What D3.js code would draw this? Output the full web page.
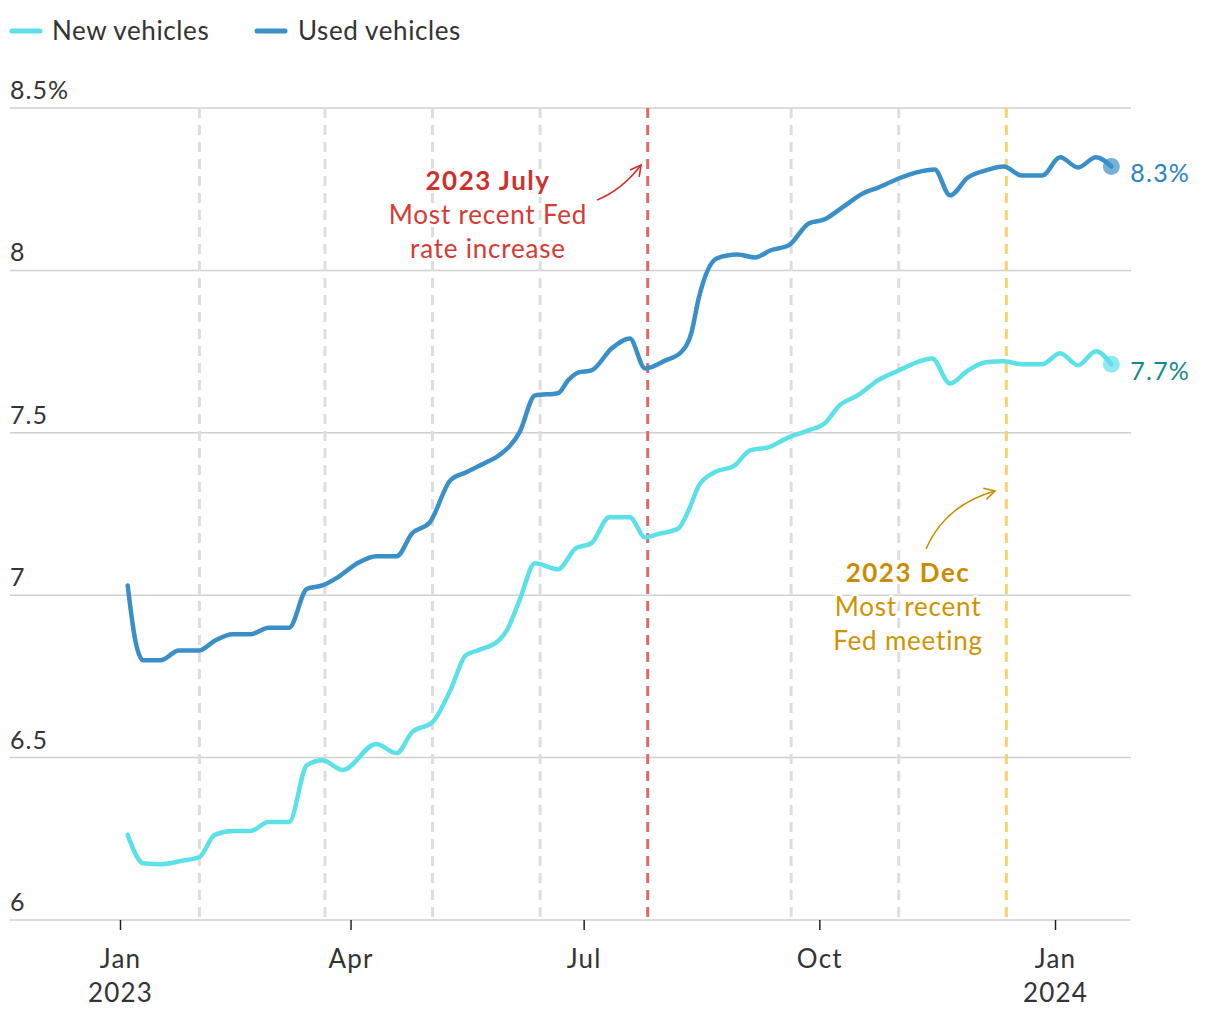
<!DOCTYPE html>
<html><head><meta charset="utf-8">
<script src="https://cdn.jsdelivr.net/npm/d3@7"></script>
<style>
body{margin:0;background:#fff;}
svg{display:block;font-family:Lato,"Noto Sans",sans-serif;}
</style></head>
<body><svg id="c" width="1220" height="1020"></svg>
<script>
const seriesNames = ["New vehicles", "Used vehicles"];
const usedDates = ["2023-01-04","2023-01-07","2023-01-10","2023-01-17","2023-01-24","2023-02-01","2023-02-07","2023-02-14","2023-02-21","2023-02-28","2023-03-08","2023-03-15","2023-03-21","2023-03-27","2023-04-04","2023-04-11","2023-04-19","2023-04-25","2023-05-02","2023-05-10","2023-05-16","2023-05-24","2023-05-29","2023-06-06","2023-06-12","2023-06-21","2023-06-25","2023-06-29","2023-07-04","2023-07-12","2023-07-19","2023-07-25","2023-08-02","2023-08-08","2023-08-12","2023-08-15","2023-08-22","2023-08-30","2023-09-06","2023-09-12","2023-09-19","2023-09-27","2023-10-03","2023-10-10","2023-10-18","2023-10-24","2023-11-01","2023-11-08","2023-11-15","2023-11-21","2023-11-28","2023-12-05","2023-12-12","2023-12-19","2023-12-27","2024-01-03","2024-01-10","2024-01-17","2024-01-23"];
const usedValues = [7.03,6.86,6.80,6.80,6.83,6.83,6.86,6.88,6.88,6.90,6.90,7.02,7.03,7.055,7.10,7.12,7.12,7.19,7.225,7.354,7.378,7.409,7.431,7.502,7.615,7.622,7.662,7.686,7.692,7.76,7.79,7.698,7.723,7.748,7.806,7.917,8.037,8.049,8.04,8.062,8.077,8.145,8.157,8.194,8.237,8.255,8.283,8.302,8.311,8.231,8.286,8.308,8.32,8.292,8.292,8.348,8.317,8.348,8.32];
const newDates = ["2023-01-04","2023-01-10","2023-01-17","2023-01-25","2023-02-01","2023-02-07","2023-02-14","2023-02-21","2023-02-28","2023-03-08","2023-03-15","2023-03-21","2023-03-29","2023-04-11","2023-04-19","2023-04-25","2023-05-03","2023-05-10","2023-05-16","2023-05-21","2023-05-29","2023-06-01","2023-06-06","2023-06-12","2023-06-21","2023-06-28","2023-07-04","2023-07-11","2023-07-19","2023-07-25","2023-07-30","2023-08-07","2023-08-11","2023-08-15","2023-08-21","2023-08-29","2023-09-04","2023-09-11","2023-09-19","2023-09-27","2023-10-03","2023-10-09","2023-10-16","2023-10-24","2023-11-01","2023-11-08","2023-11-14","2023-11-21","2023-11-28","2023-12-05","2023-12-12","2023-12-19","2023-12-27","2024-01-03","2024-01-10","2024-01-17","2024-01-23"];
const newValues = [6.262,6.175,6.172,6.182,6.194,6.262,6.274,6.274,6.302,6.302,6.477,6.492,6.462,6.542,6.514,6.578,6.609,6.708,6.815,6.831,6.862,6.892,6.985,7.098,7.08,7.145,7.16,7.24,7.24,7.178,7.188,7.206,7.262,7.338,7.378,7.40,7.446,7.455,7.486,7.508,7.529,7.585,7.615,7.662,7.692,7.717,7.729,7.652,7.692,7.717,7.72,7.711,7.711,7.745,7.708,7.751,7.711];
const yTicks = [6, 6.5, 7, 7.5, 8, 8.5];
const yTickLabels = ["6","6.5","7","7.5","8","8.5%"];
const xTickDates = ["2023-01-01","2023-04-01","2023-07-01","2023-10-01","2024-01-01"];
const xTickLabels = [["Jan","2023"],["Apr",""],["Jul",""],["Oct",""],["Jan","2024"]];
const fedMeetings = ["2023-02-01","2023-03-22","2023-05-03","2023-06-14","2023-07-26","2023-09-20","2023-11-01","2023-12-13"];
const hikeDate = "2023-07-26";
const lastMeetingDate = "2023-12-13";
const endLabels = ["7.7%","8.3%"];

const parse = d3.utcParse("%Y-%m-%d");
const svg = d3.select("#c");
const x = d3.scaleUtc().domain([parse("2023-01-01"), parse("2024-01-01")]).range([120, 1055]);
const y = d3.scaleLinear().domain([6, 8.5]).range([920, 108]);

const colNew = "#5ce1e8", colUsed = "#3a8fc9";
const colNewLab = "#11898c", colUsedLab = "#2c82c3";

// grid
const g = svg.append("g");
g.selectAll("line.grid").data(yTicks).join("line")
  .attr("x1", 10).attr("x2", 1131)
  .attr("y1", d => y(d)).attr("y2", d => y(d))
  .attr("stroke", "#d0d0d0").attr("stroke-width", 1.5);
g.selectAll("text.yl").data(yTicks).join("text")
  .attr("x", 10).attr("y", d => y(d) - 9)
  .attr("font-size", 25).attr("letter-spacing", 1).attr("fill", "#333")
  .text((d, i) => yTickLabels[i]);

// fed meeting lines
g.selectAll("line.fed").data(fedMeetings).join("line")
  .attr("x1", d => x(parse(d))).attr("x2", d => x(parse(d)))
  .attr("y1", y(8.5)).attr("y2", y(6))
  .attr("stroke", d => d === hikeDate ? "#e06a6a" : d === lastMeetingDate ? "#f5d46e" : "#dedede")
  .attr("stroke-width", 3)
  .attr("stroke-dasharray", "10,7");

// x axis
const xa = svg.append("g").attr("transform", `translate(0,${y(6)})`)
  .call(d3.axisBottom(x).tickValues(xTickDates.map(parse)).tickSize(10).tickFormat(""));
xa.select(".domain").remove();
xa.selectAll(".tick line").attr("stroke", "#222").attr("stroke-width", 1.5);
xa.selectAll(".tick").each(function(d, i) {
  const t = d3.select(this).append("text").attr("fill", "#333").attr("font-size", 26)
    .attr("letter-spacing", 1.2)
    .attr("text-anchor", "middle").attr("font-family", "Lato,'Noto Sans',sans-serif");
  t.append("tspan").attr("x", 0).attr("y", 48).text(xTickLabels[i][0]);
  t.append("tspan").attr("x", 0).attr("y", 82).text(xTickLabels[i][1]);
});

// annotations
const ann = svg.append("g");
function annotate(cx, y0, lines, color, boldColor) {
  const t = ann.append("text").attr("text-anchor", "middle").attr("font-size", 26)
    .attr("stroke", "#fff").attr("stroke-width", 5).attr("paint-order", "stroke").attr("stroke-linejoin", "round");
  lines.forEach((l, i) => {
    t.append("tspan").attr("x", cx).attr("y", y0 + i * 34)
      .attr("font-weight", i === 0 ? 700 : 400)
      .attr("letter-spacing", i === 0 ? 1.5 : 0.8)
      .attr("fill", i === 0 ? boldColor : color).text(l);
  });
}
annotate(488, 190, ["2023 July", "Most recent Fed", "rate increase"], "#d63a35", "#d02f2b");
annotate(908, 582, ["2023 Dec", "Most recent", "Fed meeting"], "#cf9300", "#c98d00");

function arrow(x0, y0, cx, cy, x1, y1, color) {
  ann.append("path").attr("d", `M${x0},${y0} Q${cx},${cy} ${x1},${y1}`)
    .attr("fill", "none").attr("stroke", color).attr("stroke-width", 1.6);
  const ang = Math.atan2(y1 - cy, x1 - cx);
  const L = 12, a = 0.5;
  const p1 = [x1 - L * Math.cos(ang - a), y1 - L * Math.sin(ang - a)];
  const p2 = [x1 - L * Math.cos(ang + a), y1 - L * Math.sin(ang + a)];
  ann.append("path").attr("d", `M${p1[0]},${p1[1]} L${x1},${y1} L${p2[0]},${p2[1]}`)
    .attr("fill", "none").attr("stroke", color).attr("stroke-width", 1.6);
}
arrow(597, 200, 622, 190, 641, 165, "#d02f2b");
arrow(926, 549, 945, 505, 995, 491, "#c98d00");

// lines
const line = d3.line().x(d => x(d[0])).y(d => y(d[1])).curve(d3.curveMonotoneX);
const newData = newDates.map((d, i) => [parse(d), newValues[i]]);
const usedData = usedDates.map((d, i) => [parse(d), usedValues[i]]);
svg.append("path").datum(newData).attr("d", line).attr("fill", "none")
  .attr("stroke", colNew).attr("stroke-width", 4.5).attr("stroke-linecap", "round").attr("stroke-linejoin", "round");
svg.append("path").datum(usedData).attr("d", line).attr("fill", "none")
  .attr("stroke", colUsed).attr("stroke-width", 4.5).attr("stroke-linecap", "round").attr("stroke-linejoin", "round");

// end dots + labels
[[newData, colNew, colNewLab, endLabels[0]], [usedData, colUsed, colUsedLab, endLabels[1]]].forEach(([data, c, lc, lab]) => {
  const last = data[data.length - 1];
  svg.append("circle").attr("cx", x(last[0])).attr("cy", y(last[1])).attr("r", 8.5)
    .attr("fill", c).attr("opacity", 0.7);
  svg.append("text").attr("x", x(last[0]) + 19).attr("y", y(last[1]) + 16)
    .attr("font-size", 25).attr("letter-spacing", 1.2).attr("fill", lc).text(lab);
});

// legend
const leg = svg.append("g");
[[12, colNew, 52], [257, colUsed, 298]].forEach(([lx, c, tx], i) => {
  leg.append("line").attr("x1", lx).attr("x2", lx + 28).attr("y1", 31).attr("y2", 31)
    .attr("stroke", c).attr("stroke-width", 5).attr("stroke-linecap", "round");
  leg.append("text").attr("x", tx).attr("y", 40).attr("font-size", 26).attr("letter-spacing", 0.6)
    .attr("fill", "#333").text(seriesNames[i]);
});
</script></body></html>
